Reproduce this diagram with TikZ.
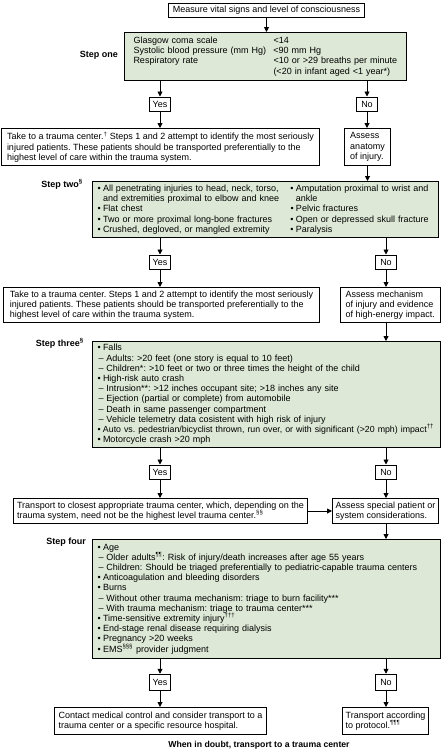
\documentclass[tikz,border=0pt]{standalone}
\usepackage{fontspec}
\setmainfont{Liberation Sans}
\usetikzlibrary{arrows.meta}
\definecolor{stepgreen}{RGB}{221,232,214}
\frenchspacing
\newcommand{\bodyfs}{\fontsize{9}{10.2}\selectfont}
\newcommand{\bult}{\makebox[5.5pt][l]{\textbullet}}
\newcommand{\bind}{\hspace*{5.5pt}}
\newcommand{\subdash}{\hspace*{1pt}\makebox[8pt][l]{–}}
\newcommand{\colA}[1]{\makebox[140pt][l]{#1}}
\newcommand{\colB}[1]{\makebox[193pt][l]{#1}}
\begin{document}
\begin{tikzpicture}[x=1pt,y=-1pt,
  box/.style={draw=black, line width=1pt, fill=white, anchor=north west, align=left, font=\bodyfs\frenchspacing, inner ysep=0pt},
  gbox/.style={box, fill=stepgreen},
  yn/.style={draw=black, line width=1pt, fill=white, font=\bodyfs, minimum width=21pt, minimum height=14pt, inner sep=0pt},
  lab/.style={font=\fontsize{9}{10}\selectfont\bfseries, anchor=east, inner sep=0pt},
  arr/.style={-{Triangle[length=5pt,width=5pt]}, line width=0.9pt}]
\useasboundingbox (0,0) rectangle (440,750);

% top
\node[box, align=center, minimum width=196pt, minimum height=14pt, inner xsep=3pt] (top) at (168,3) {Measure vital signs and level of consciousness};

% step one
\node[gbox, text width=264pt, inner xsep=9pt, minimum width=282pt, minimum height=48pt] (s1) at (124,32) {%
\colA{Glasgow coma scale}<14\\
\colA{Systolic blood pressure (mm Hg)}<90 mm Hg\\
\colA{Respiratory rate}<10 or >29 breaths per minute\\
\colA{}(<20 in infant aged <1 year*)};
\node[lab] (l1) at (118,55) {Step one};

\node[yn] (y1) at (160,104) {Yes};
\node[yn] (n1) at (367,104) {No};

\node[box, minimum width=318pt, minimum height=37pt, inner xsep=3pt] (b1) at (1,128) {%
Take to a trauma center.\textsuperscript{†} Steps 1 and 2 attempt to identify the most seriously\\
injured patients. These patients should be transported preferentially to the\\
highest level of care within the trauma system.};
\node[box, minimum width=46pt, minimum height=37pt, inner xsep=3pt] (a1) at (344,128) {Assess\\anatomy\\of injury.};

% step two
\node[gbox, text width=336pt, inner xsep=5pt, minimum width=346pt, minimum height=56pt] (s2) at (92,181) {%
\colB{\bult All penetrating injuries to head, neck, torso,}\bult Amputation proximal to wrist and\\
\colB{\bind and extremities proximal to elbow and knee}\bind ankle\\
\colB{\bult Flat chest}\bult Pelvic fractures\\
\colB{\bult Two or more proximal long-bone fractures}\bult Open or depressed skull fracture\\
\colB{\bult Crushed, degloved, or mangled extremity}\bult Paralysis};
\node[lab] (l2) at (83,184) {Step two\textsuperscript{§}};

\node[yn] (y2) at (160,262) {Yes};
\node[yn] (n2) at (386,262) {No};

\node[box, minimum width=316pt, minimum height=35pt, inner xsep=3pt] (b2) at (3,287) {%
Take to a trauma center. Steps 1 and 2 attempt to identify the most seriously\\
injured patients. These patients should be transported preferentially to the\\
highest level of care within the trauma system.};
\node[box, minimum width=99.5pt, minimum height=35pt, inner xsep=3pt] (a2) at (340,287) {Assess mechanism\\of injury and evidence\\of high-energy impact.};

% step three
\node[gbox, text width=337.5pt, inner xsep=5pt, minimum width=347.5pt, minimum height=106pt] (s3) at (92,341) {%
\bult Falls\\
\subdash Adults: >20 feet (one story is equal to 10 feet)\\
\subdash Children*: >10 feet or two or three times the height of the child\\
\bult High-risk auto crash\\
\subdash Intrusion**: >12 inches occupant site; >18 inches any site\\
\subdash Ejection (partial or complete) from automobile\\
\subdash Death in same passenger compartment\\
\subdash Vehicle telemetry data cosistent with high risk of injury\\
\mbox{\fontsize{8.8}{10.2}\selectfont\bult Auto vs. pedestrian/bicyclist thrown, run over, or with significant (>20 mph) impact\textsuperscript{††}}\\
\bult Motorcycle crash >20 mph};
\node[lab] (l3) at (84,343) {Step three\textsuperscript{§}};

\node[yn] (y3) at (160,472) {Yes};
\node[yn] (n3) at (386,472) {No};

\node[box, minimum width=294pt, minimum height=25pt, inner xsep=3pt] (b3) at (13,498) {%
Transport to closest appropriate trauma center, which, depending on the\\
trauma system, need not be the highest level trauma center.\textsuperscript{§§}};
\node[box, minimum width=106pt, minimum height=25pt, inner xsep=3pt] (a3) at (332,498) {Assess special patient or\\system considerations.};

% step four
\node[gbox, text width=337.5pt, inner xsep=5pt, minimum width=347.5pt, minimum height=119pt] (s4) at (92,539) {%
\bult Age\\
\subdash Older adults\textsuperscript{¶¶}: Risk of injury/death increases after age 55 years\\
\mbox{\subdash Children: Should be triaged preferentially to pediatric-capable trauma centers}\\
\bult Anticoagulation and bleeding disorders\\
\bult Burns\\
\subdash Without other trauma mechanism: triage to burn facility***\\
\subdash With trauma mechanism: triage to trauma center***\\
\bult Time-sensitive extremity injury\textsuperscript{†††}\\
\bult End-stage renal disease requiring dialysis\\
\bult Pregnancy >20 weeks\\
\bult EMS\textsuperscript{§§§} provider judgment};
\node[lab] (l4) at (86,542) {Step four};

\node[yn, minimum height=16.5pt] (y4) at (160,682.5) {Yes};
\node[yn, minimum height=16.5pt] (n4) at (386,682.5) {No};

\node[box, minimum width=212pt, minimum height=27pt, inner xsep=3pt] (c1) at (54,707) {%
Contact medical control and consider transport to a\\
trauma center or a specific resource hospital.};
\node[box, minimum width=86pt, minimum height=27pt, inner xsep=3pt] (c2) at (342,707) {%
Transport according\\to protocol.\textsuperscript{¶¶¶}};

\node[font=\fontsize{8.7}{10}\selectfont\bfseries, inner sep=0pt] (doubt) at (259,745) {When in doubt, transport to a trauma center};

% connectors
\draw[arr] (top) -- (top |- s1.north);
\draw[arr] (s1.south -| y1) -- (y1);
\draw[arr] (s1.south -| n1) -- (n1);
\draw[arr] (y1) -- (y1 |- b1.north);
\draw[arr] (n1) -- (n1 |- a1.north);
\draw[arr] (a1) -- (a1 |- s2.north);
\draw[arr] (s2.south -| y2) -- (y2);
\draw[arr] (s2.south -| n2) -- (n2);
\draw[arr] (y2) -- (y2 |- b2.north);
\draw[arr] (n2) -- (n2 |- a2.north);
\draw[arr] (a2.south -| n2) -- (s3.north -| n2);
\draw[arr] (s3.south -| y3) -- (y3);
\draw[arr] (s3.south -| n3) -- (n3);
\draw[arr] (y3) -- (y3 |- b3.north);
\draw[arr] (n3) -- (n3 |- a3.north);
\draw[arr] (b3.east) -- (a3.west);
\draw[arr] (a3.south -| n3) -- (s4.north -| n3);
\draw[arr] (s4.south -| y4) -- (y4);
\draw[arr] (s4.south -| n4) -- (n4);
\draw[arr] (y4) -- (y4 |- c1.north);
\draw[arr] (n4) -- (n4 |- c2.north);
\end{tikzpicture}
\end{document}
